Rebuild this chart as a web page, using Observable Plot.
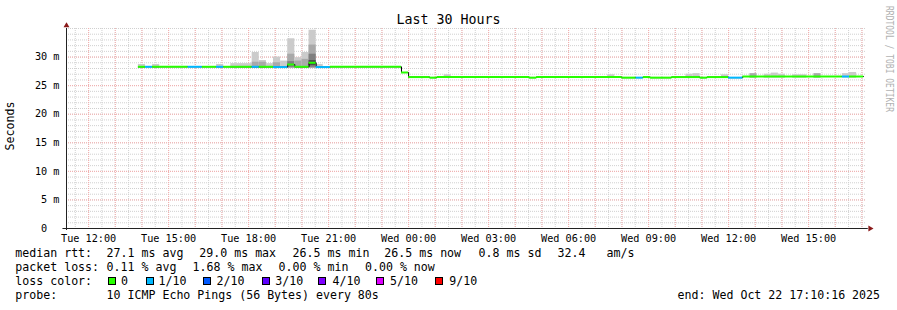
<!DOCTYPE html>
<html><head><meta charset="utf-8">
<script src="https://cdn.jsdelivr.net/npm/d3@7"></script>
<script src="https://cdn.jsdelivr.net/npm/@observablehq/plot@0.6"></script>
<style>
html,body{margin:0;padding:0;background:#fff;}
#wrap{position:relative;width:897px;height:310px;overflow:hidden;font-family:"DejaVu Sans Mono",monospace;color:#000;background:#fff;}
#wrap svg{position:absolute;left:0;top:0;}
.t{position:absolute;white-space:pre;}
.sw{position:absolute;width:6px;height:6px;border:1px solid #000;}
</style></head><body><div id="wrap"></div>
<script>
// ---------------- data ----------------
const chartTitle = "Last 30 Hours";
const yLabel = "Seconds";
const watermark = "RRDTOOL / TOBI OETIKER";
const rangeStart = "2025-10-21T11:10:16Z";
const rangeEnd = "2025-10-22T17:10:16Z";

// median rtt (ms), one entry per run of equal value; loss index into lossColors
const medianTimes = [
  "10-21 13:52","10-21 14:08","10-21 14:24","10-21 15:44","10-21 16:16","10-21 16:48","10-21 17:04","10-21 18:08",
  "10-21 18:24","10-21 18:56","10-21 19:28","10-21 19:44","10-21 20:16","10-21 20:32","10-21 21:04","10-21 23:44",
  "10-22 00:00","10-22 00:48","10-22 01:04","10-22 04:32","10-22 04:48","10-22 08:00","10-22 08:32","10-22 08:48",
  "10-22 09:04","10-22 09:52","10-22 10:56","10-22 11:12","10-22 12:00","10-22 12:32","10-22 16:16","10-22 16:32"];
const medianEnd = "10-22 17:04";
const medianValues = [
  28.3,28.3,28.3,28.3,28.3,28.3,28.3,28.3,
  28.3,28.25,28.7,28.3,29.0,28.25,28.3,27.3,
  26.5,26.4,26.5,26.4,26.5,26.4,26.4,26.5,
  26.4,26.5,26.4,26.5,26.4,26.6,26.6,26.6];
const medianLoss = [
  0,1,0,1,0,1,0,1,
  0,1,0,0,0,1,0,0,
  0,0,0,0,0,0,1,0,
  0,0,0,0,1,0,1,0];

// smoke (ping spread) boxes, ms
const smokeStart = [
  "10-21 13:52","10-21 14:24","10-21 16:48","10-21 17:20","10-21 18:08","10-21 18:08","10-21 18:24","10-21 18:24",
  "10-21 18:40","10-21 18:56","10-21 18:56","10-21 19:12","10-21 19:28","10-21 19:28","10-21 19:28","10-21 19:44",
  "10-21 19:44","10-21 20:00","10-21 20:00","10-21 20:16","10-21 20:16","10-21 20:16","10-21 20:16","10-21 20:32",
  "10-22 01:20","10-22 07:28","10-22 10:24","10-22 10:40","10-22 11:44","10-22 12:48","10-22 13:20","10-22 13:36",
  "10-22 13:52","10-22 14:24","10-22 15:12","10-22 16:16","10-22 16:32"];
const smokeEnd = [
  "10-21 14:08","10-21 14:40","10-21 17:04","10-21 18:08","10-21 18:24","10-21 18:24","10-21 18:40","10-21 18:40",
  "10-21 18:56","10-21 19:12","10-21 19:12","10-21 19:28","10-21 19:44","10-21 19:44","10-21 19:44","10-21 20:00",
  "10-21 20:00","10-21 20:16","10-21 20:16","10-21 20:32","10-21 20:32","10-21 20:32","10-21 20:32","10-21 20:48",
  "10-22 01:36","10-22 07:44","10-22 10:40","10-22 10:56","10-22 12:00","10-22 13:04","10-22 13:36","10-22 13:52",
  "10-22 14:08","10-22 14:56","10-22 15:28","10-22 16:32","10-22 16:48"];
const smokeLow = [
  28.0,28.0,28.0,28.0,28.0,28.0,28.0,28.0,
  28.0,28.0,28.0,28.0,28.0,28.0,28.2,28.0,
  28.0,28.0,28.0,28.0,28.0,28.2,28.5,28.0,
  26.3,26.3,26.3,26.3,26.3,26.3,26.3,26.3,
  26.3,26.3,26.3,26.3,26.3];
const smokeHigh = [
  28.7,28.7,28.7,28.85,30.8,29.1,29.4,29.1,
  28.85,30.0,29.0,29.3,33.2,30.5,29.2,29.9,
  29.3,30.8,29.6,34.7,32.1,30.5,29.4,28.7,
  26.9,26.9,27.0,27.1,26.9,27.1,27.0,27.2,
  27.0,26.9,27.1,27.1,27.3];
const smokeShade = [
  0,0,0,0,0,1,0,1,
  0,0,1,0,0,1,2,0,
  1,0,1,0,1,2,3,0,
  0,0,0,0,0,1,0,0,
  0,0,1,0,0];

const lossColorLabels = ["0","1/10","2/10","3/10","4/10","5/10","9/10"];
const lossColors = ["#26ff00","#00b8ff","#0059ff","#5e00ff","#7e00ff","#dd00ff","#ff0000"];
const smokeColors = ["#cbcbcb","#a9a9a9","#7f7f7f","#4f4f4f"];

const yTicks = [0,5,10,15,20,25,30];

const rttLabel = "median rtt:";
const rttStats = ["27.1 ms avg","29.0 ms max","26.5 ms min","26.5 ms now","0.8 ms sd","32.4","am/s"];
const lossLabel = "packet loss:";
const lossStats = ["0.11 % avg","1.68 % max","0.00 % min","0.00 % now"];
const colorLabel = "loss color:";
const probeLabel = "probe:";
const probeText = "10 ICMP Echo Pings (56 Bytes) every 80s";
const endText = "end: Wed Oct 22 17:10:16 2025";

// ---------------- build ----------------
const P = s => new Date("2025-" + s.replace(" ", "T") + ":00Z");
const xStart = new Date(rangeStart), xEnd = new Date(rangeEnd);

const segs = medianTimes.map((t, i) => ({
  x1: P(t), x2: P(i + 1 < medianTimes.length ? medianTimes[i + 1] : medianEnd),
  y: medianValues[i], color: lossColors[medianLoss[i]]
}));
const stepPts = segs.map(d => ({x: d.x1, y: d.y})).concat([{x: segs[segs.length - 1].x2, y: segs[segs.length - 1].y}]);
const smoke = smokeStart.map((t, i) => ({
  x1: P(t), x2: P(smokeEnd[i]), y1: smokeLow[i], y2: smokeHigh[i], fill: smokeColors[smokeShade[i]]
}));

const minorGrid = {stroke: "#d0d0d0", strokeOpacity: 1, strokeDasharray: "1,1"};
const majorGrid = {stroke: "#f5adad", strokeOpacity: 1, strokeDasharray: "1,1"};
const minute = 60000;

const chart = Plot.plot({
  width: 897, height: 245,
  marginLeft: 66, marginRight: 31, marginTop: 28, marginBottom: 17,
  x: {type: "utc", domain: [xStart, xEnd]},
  y: {domain: [0, 35]},
  color: {type: "identity"},
  style: {fontFamily: '"DejaVu Sans Mono", monospace', background: "transparent", overflow: "visible", color: "#000"},
  marks: [
    Plot.gridY(d3.range(1, 36), minorGrid),
    Plot.gridX(d3.utcMinute.every(30).range(xStart, xEnd), minorGrid),
    Plot.gridY(yTicks.filter(v => v > 0), majorGrid),
    Plot.gridX(d3.utcHour.range(xStart, xEnd), majorGrid),
    Plot.rect(smoke, {x1: "x1", x2: "x2", y1: "y1", y2: "y2", fill: "fill"}),
    Plot.line(stepPts, {x: "x", y: "y", curve: "step-after", stroke: "#000", strokeWidth: 1}),
    Plot.ruleY(segs, {x1: "x1", x2: "x2", y: "y", stroke: "color", strokeWidth: 2}),
    Plot.axisY(yTicks, {tickSize: 0, tickPadding: 7, fontSize: 10.2, label: null,
      tickFormat: d => d === 0 ? "0\u00a0\u00a0" : d + "\u00a0m"}),
    Plot.axisX(d3.utcHour.every(3).range(xStart, xEnd), {tickSize: 0, tickPadding: 6, fontSize: 10.2, label: null,
      tickFormat: d3.utcFormat("%a %H:%M")}),
    Plot.ruleY([{y: 0, x1: new Date(+xStart - 8 * minute), x2: new Date(+xEnd + 4 * minute)}],
      {y: "y", x1: "x1", x2: "x2", stroke: "#222"}),
    Plot.ruleX([{x: xStart, y1: -0.35, y2: 35}], {x: "x", y1: "y1", y2: "y2", stroke: "#222"}),
    Plot.dot([{x: xEnd, y: 0}], {x: "x", y: "y", symbol: "triangle", r: 2.2, rotate: 90, dx: 3.6, fill: "#8b1a1a", stroke: "none"}),
    Plot.dot([{x: xStart, y: 35}], {x: "x", y: "y", symbol: "triangle", r: 2.2, dy: -2.9, fill: "#8b1a1a", stroke: "none"})
  ]
});
const wrap = document.getElementById("wrap");
wrap.appendChild(chart);

// ---------------- texts ----------------
function put(text, x, baseline, size, extra) {
  const el = document.createElement("div");
  el.className = "t";
  el.textContent = text;
  el.style.fontSize = size + "px";
  el.style.lineHeight = size + "px";
  el.style.left = x + "px";
  el.style.top = (baseline - 0.846 * size) + "px";
  if (extra) Object.assign(el.style, extra);
  wrap.appendChild(el);
  return el;
}
const LS = 11.6, b = 0.7;
put(chartTitle, 0, 24, 13.3, {width: "897px", textAlign: "center"});

const yl = document.createElement("div");
yl.className = "t"; yl.textContent = yLabel;
Object.assign(yl.style, {fontSize: LS + "px", lineHeight: LS + "px", left: "11px", top: "126px",
  transform: "translate(-50%,-50%) rotate(-90deg)"});
wrap.appendChild(yl);

const wm = document.createElement("div");
wm.className = "t"; wm.textContent = watermark;
Object.assign(wm.style, {fontSize: "8px", lineHeight: "8px", left: "888.5px", top: "59px", color: "#b2b2b2",
  writingMode: "vertical-rl", transform: "translate(-50%,-50%) scaleX(1.3)"});
wrap.appendChild(wm);

const rttX = [107.3, 200, 293.3, 385, 479.3, 558.3, 607.3];
const lossX = [107.3, 193.3, 279.3, 365.7];
const swX = [107.5, 146, 203.3, 261.8, 318.3, 376, 435];
const swLabelX = [121.7, 159.3, 217.3, 276, 333.3, 390.7, 450];

put(rttLabel, 16 - b, 258, LS);
rttStats.forEach((s, i) => put(s, rttX[i] - b, 258, LS));
put(lossLabel, 16 - b, 272, LS);
lossStats.forEach((s, i) => put(s, lossX[i] - b, 272, LS));
put(colorLabel, 16 - b, 286, LS);
lossColorLabels.forEach((s, i) => {
  const sw = document.createElement("div");
  sw.className = "sw";
  Object.assign(sw.style, {left: swX[i] + "px", top: "277.3px", background: lossColors[i]});
  wrap.appendChild(sw);
  put(s, swLabelX[i] - b, 286, LS);
});
put(probeLabel, 16 - b, 300, LS);
put(probeText, 107.3 - b, 300, LS);
put(endText, 678.3 - b, 300, LS);
</script>
</body></html>
